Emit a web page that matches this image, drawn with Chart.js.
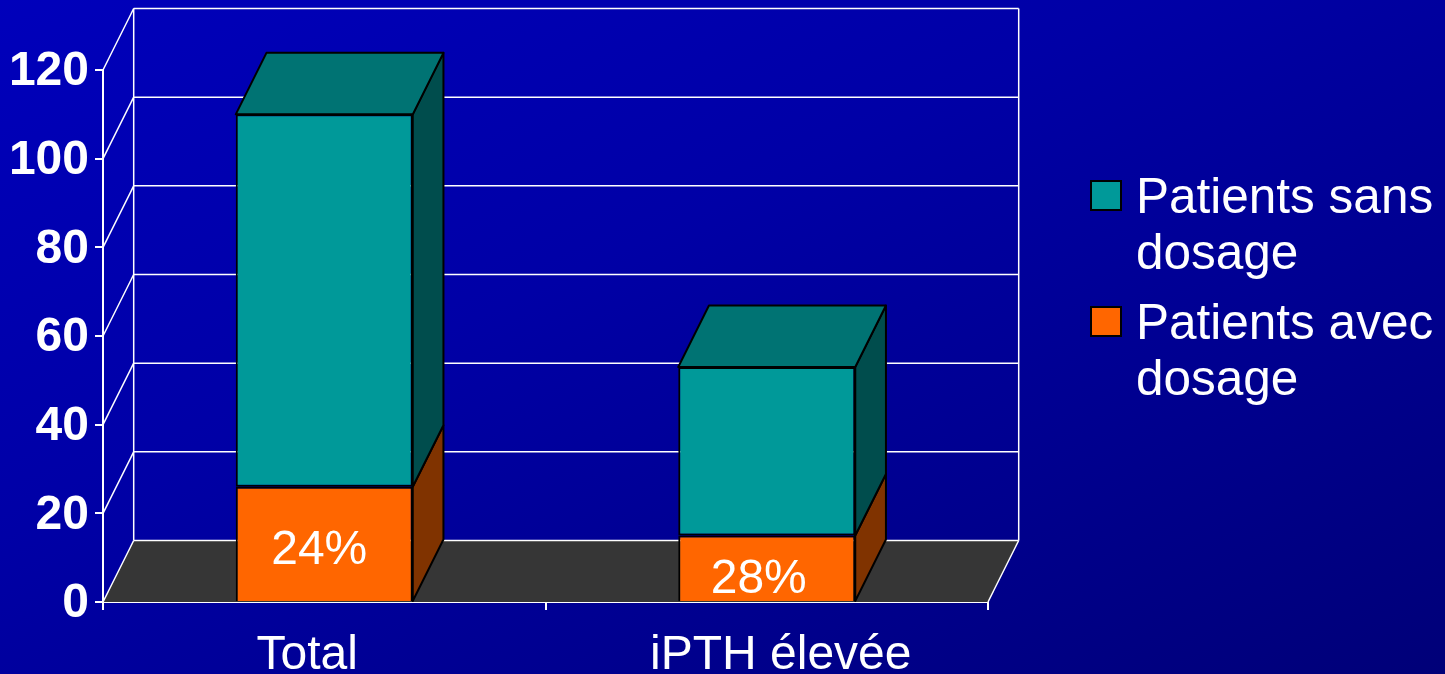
<!DOCTYPE html>
<html>
<head>
<meta charset="utf-8">
<title>iPTH</title>
<script src="https://cdn.jsdelivr.net/npm/chart.js@4"></script>
<style>
    html, body { margin: 0; padding: 0; width: 1445px; height: 674px; overflow: hidden; }
    body { background: linear-gradient(155deg, #0000bb 0%, #0000a6 40%, #000078 100%); }
    canvas { display: block; }
</style>
</head>
<body>
<canvas id="chart" width="1445" height="674"></canvas>
<script>
const categories = ['Total', 'iPTH élevée'];
const patientsAvecDosage = [26, 15];
const patientsSansDosage = [84, 38];
const percentLabels = ['24%', '28%'];
const valueTicks = [0, 20, 40, 60, 80, 100, 120];
const legendSans = ['Patients sans', 'dosage'];
const legendAvec = ['Patients avec', 'dosage'];

const FONT = '"Liberation Sans", Arial, sans-serif';
const DEPTH_X = 30.7;
const DEPTH_Y = -61.5;

function poly(ctx, pts, fill, stroke, lw) {
    ctx.beginPath();
    pts.forEach((p, i) => i ? ctx.lineTo(p[0], p[1]) : ctx.moveTo(p[0], p[1]));
    ctx.closePath();
    if (fill) { ctx.fillStyle = fill; ctx.fill(); }
    if (stroke) { ctx.strokeStyle = stroke; ctx.lineWidth = lw; ctx.stroke(); }
}

function line(ctx, x1, y1, x2, y2, lw) {
    ctx.beginPath();
    ctx.moveTo(x1, y1);
    ctx.lineTo(x2, y2);
    ctx.strokeStyle = '#ffffff';
    ctx.lineWidth = lw;
    ctx.stroke();
}

// floor, back wall and side wall behind the bars
const wallPlugin = {
    id: 'wall',
    beforeDatasetsDraw(chart) {
        const { ctx, chartArea: a, scales: { y } } = chart;
        ctx.save();
        poly(ctx, [[a.left, a.bottom], [a.right, a.bottom], [a.right + DEPTH_X, a.bottom + DEPTH_Y], [a.left + DEPTH_X, a.bottom + DEPTH_Y]], '#363636');
        valueTicks.forEach(v => {
            const py = y.getPixelForValue(v);
            line(ctx, a.left, py, a.left + DEPTH_X, py + DEPTH_Y, 1.5);
            line(ctx, a.left + DEPTH_X, py + DEPTH_Y, a.right + DEPTH_X, py + DEPTH_Y, 1.5);
        });
        line(ctx, a.left + DEPTH_X, a.top + DEPTH_Y, a.left + DEPTH_X, a.bottom + DEPTH_Y, 1.5);
        line(ctx, a.right + DEPTH_X, a.top + DEPTH_Y, a.right + DEPTH_X, a.bottom + DEPTH_Y, 1.5);
        line(ctx, a.right, a.bottom, a.right + DEPTH_X, a.bottom + DEPTH_Y, 1.5);
        ctx.restore();
    }
};

// side and top faces of each bar
const barDepthPlugin = {
    id: 'barDepth',
    beforeDatasetsDraw(chart) {
        const { ctx } = chart;
        const sideColors = ['#803300', '#004d4d'];
        const topColor = '#007373';
        ctx.save();
        ctx.lineJoin = 'round';
        [0, 1].forEach(ds => {
            chart.getDatasetMeta(ds).data.forEach(bar => {
                const r = bar.x + bar.width / 2;
                const l = bar.x - bar.width / 2;
                poly(ctx, [[r, bar.base], [r + DEPTH_X, bar.base + DEPTH_Y], [r + DEPTH_X, bar.y + DEPTH_Y], [r, bar.y]], sideColors[ds], '#000000', 2);
                if (ds === 1) {
                    poly(ctx, [[l, bar.y], [r, bar.y], [r + DEPTH_X, bar.y + DEPTH_Y], [l + DEPTH_X, bar.y + DEPTH_Y]], topColor, '#000000', 2);
                }
            });
        });
        ctx.restore();
    }
};

// percent labels, category labels and the wrapped legend
const textPlugin = {
    id: 'texts',
    afterDraw(chart) {
        const { ctx, scales: { x } } = chart;
        ctx.save();
        ctx.fillStyle = '#ffffff';
        ctx.textAlign = 'center';
        ctx.textBaseline = 'alphabetic';

        ctx.font = '48px ' + FONT;
        const pctShiftX = [-5, -8];
        const pctShiftY = [20, 25];
        chart.getDatasetMeta(0).data.forEach((bar, i) => {
            ctx.fillText(percentLabels[i], bar.x + pctShiftX[i], (bar.y + bar.base) / 2 + pctShiftY[i]);
        });

        ctx.font = '48px ' + FONT;
        const catShift = [-17, 14];
        categories.forEach((c, i) => {
            ctx.fillText(c, x.getPixelForTick(i) + catShift[i], 669);
        });

        ctx.textAlign = 'left';
        ctx.font = '49.5px ' + FONT;
        const entries = [
            { lines: legendSans, color: chart.data.datasets[1].backgroundColor, boxY: 181, base: [213, 269] },
            { lines: legendAvec, color: chart.data.datasets[0].backgroundColor, boxY: 307, base: [339, 395] }
        ];
        entries.forEach(e => {
            ctx.fillStyle = e.color;
            ctx.strokeStyle = '#000000';
            ctx.lineWidth = 2;
            ctx.fillRect(1091, e.boxY, 30, 29);
            ctx.strokeRect(1091, e.boxY, 30, 29);
            ctx.fillStyle = '#ffffff';
            e.lines.forEach((t, i) => ctx.fillText(t, 1136, e.base[i]));
        });
        ctx.restore();
    }
};

new Chart(document.getElementById('chart'), {
    type: 'bar',
    data: {
        labels: categories,
        datasets: [
            { label: 'Patients avec dosage', data: patientsAvecDosage, backgroundColor: '#ff6600', borderColor: '#000000', borderWidth: 2, borderSkipped: 'bottom', barPercentage: 0.4, categoryPercentage: 1 },
            { label: 'Patients sans dosage', data: patientsSansDosage, backgroundColor: '#009999', borderColor: '#000000', borderWidth: 2, borderSkipped: false, barPercentage: 0.4, categoryPercentage: 1 }
        ]
    },
    options: {
        responsive: false,
        animation: false,
        layout: { padding: { top: 70, right: 457, bottom: 0, left: 0 } },
        plugins: { legend: { display: false }, tooltip: { enabled: false } },
        scales: {
            x: {
                stacked: true,
                z: 1,
                afterFit: scale => { scale.height = 72; },
                border: { color: '#ffffff', width: 2 },
                grid: { drawOnChartArea: false, color: '#ffffff', lineWidth: 2, tickLength: 8 },
                ticks: { display: false }
            },
            y: {
                stacked: true,
                min: 0,
                max: 120,
                afterBuildTicks: scale => { scale.ticks = valueTicks.map(v => ({ value: v })); },
                afterFit: scale => { scale.width = 103; },
                border: { color: '#ffffff', width: 2 },
                grid: { drawOnChartArea: false, color: '#ffffff', lineWidth: 2, tickLength: 8 },
                ticks: { color: '#ffffff', padding: 6, labelOffset: 2, font: { family: FONT, size: 48, weight: 'bold' } }
            }
        }
    },
    plugins: [wallPlugin, barDepthPlugin, textPlugin]
});
</script>
</body>
</html>
